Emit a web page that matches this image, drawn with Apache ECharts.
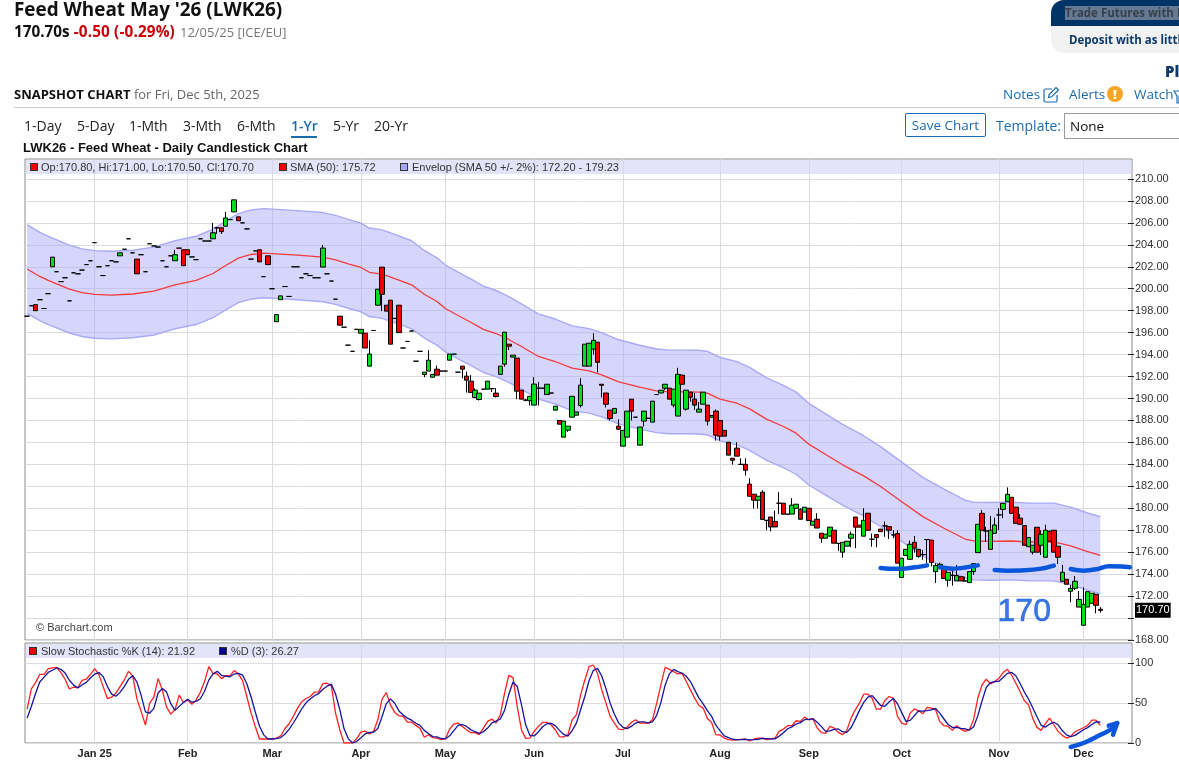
<!DOCTYPE html>
<html>
<head>
<meta charset="utf-8">
<title>Feed Wheat May '26 (LWK26)</title>
<style>
html,body{margin:0;padding:0;width:1179px;height:764px;overflow:hidden;background:#fff;font-family:"Open Sans","Noto Sans",sans-serif;color:#111}
#chart{position:absolute;left:0;top:0;width:1179px;height:764px}
.t{position:absolute;white-space:nowrap;line-height:1}
.strip{position:absolute;background:rgba(208,210,247,.6)}
.lg{position:absolute;white-space:nowrap;font:11px/1 "Liberation Sans",Arial,sans-serif;color:#333}
.sq{position:absolute;width:6px;height:6px;border:1px solid #333}
.tab{position:absolute;top:119px;font-size:14px;line-height:1;color:#222;white-space:nowrap}
</style>
</head>
<body>
<div id="chart"></div>

<div class="t" style="left:14px;top:0;font-size:18.9px;font-weight:700;color:#111">Feed Wheat May '26 (LWK26)</div>
<div class="t" style="left:14px;top:24px;font-size:15.3px;font-weight:700"><span>170.70s</span> <span style="color:#c8000a;letter-spacing:.15px">-0.50 (-0.29%)</span> <span style="font-weight:400;font-size:13px;color:#777;margin-left:1px">12/05/25 [ICE/EU]</span></div>

<div style="position:absolute;left:1051px;top:0;width:140px;height:53px;border-radius:13px;background:#f2f2f2;overflow:hidden">
  <div style="height:26px;background:#003366"></div>
</div>
<div class="t" style="left:1065px;top:6px;font-size:11.5px;font-weight:700;color:#37404c;background:#657a92;padding:1px 0">Trade Futures with Pl</div>
<div class="t" style="left:1069px;top:34px;font-size:11.5px;font-weight:700;color:#0b3a6b">Deposit with as little</div>
<div class="t" style="left:1165px;top:64px;font-size:15px;font-weight:800;color:#0b3a6b">Pl</div>

<div class="t" style="left:14px;top:88px;font-size:13px;color:#666"><b style="color:#111">SNAPSHOT CHART</b> for Fri, Dec 5th, 2025</div>
<div style="position:absolute;left:14px;top:107px;width:1165px;height:1px;background:#ccc"></div>

<div class="t" style="left:1003px;top:88px;font-size:13.5px;color:#1a6bb0">Notes</div>
<svg style="position:absolute;left:1043px;top:86px" width="17" height="17" viewBox="0 0 17 17" fill="none" stroke="#1a6bb0" stroke-width="1.2"><path d="M9 3H2.5A1.5 1.5 0 0 0 1 4.5v10A1.5 1.5 0 0 0 2.5 16h10a1.5 1.5 0 0 0 1.5-1.5V9"/><path d="M5.5 11.5l.7-3L13 1.5 15.5 4 8.6 10.8z"/></svg>
<div class="t" style="left:1069px;top:88px;font-size:13.5px;color:#1a6bb0">Alerts</div>
<div class="t" style="left:1107px;top:86px;width:16px;height:16px;border-radius:8px;background:#f5a623;color:#fff;font-size:13px;font-weight:800;line-height:16px;text-align:center">!</div>
<div class="t" style="left:1134px;top:88px;font-size:13.5px;color:#1a6bb0">Watch</div>
<svg style="position:absolute;left:1173px;top:90px" width="10" height="14" viewBox="0 0 10 14" fill="none" stroke="#1a6bb0" stroke-width="1.2"><path d="M1 1h8L6 6v7H4V6z"/></svg>

<div class="tab" style="left:24px">1-Day</div>
<div class="tab" style="left:77px">5-Day</div>
<div class="tab" style="left:129px">1-Mth</div>
<div class="tab" style="left:183px">3-Mth</div>
<div class="tab" style="left:237px">6-Mth</div>
<div class="tab" style="left:291px;color:#1a6bb0;font-weight:600">1-Yr</div>
<div style="position:absolute;left:291px;top:136px;width:26px;height:2px;background:#1a6bb0"></div>
<div class="tab" style="left:333px">5-Yr</div>
<div class="tab" style="left:374px">20-Yr</div>

<div class="t" style="left:905px;top:113px;width:79px;height:22px;border:1px solid #1a6bb0;border-radius:2px;font-size:13.5px;line-height:23px;text-align:center;color:#1a6bb0">Save Chart</div>
<div class="t" style="left:996px;top:119px;font-size:14px;color:#1a6bb0">Template:</div>
<div class="t" style="left:1064px;top:113px;width:130px;height:24px;border:1px solid #999;font-size:13.5px;line-height:25px;text-indent:5px;color:#111">None</div>

<div class="t" style="left:23px;top:141px;font:700 13px/1 'Liberation Sans',Arial,sans-serif;color:#111">LWK26 - Feed Wheat - Daily Candlestick Chart</div>

<div class="strip" style="left:26px;top:160px;width:1106px;height:14px"></div>
<div class="sq" style="left:30px;top:163px;background:#f00000"></div><div class="lg" style="left:41px;top:162px">Op:170.80, Hi:171.00, Lo:170.50, Cl:170.70</div>
<div class="sq" style="left:279px;top:163px;background:#f00000"></div><div class="lg" style="left:290px;top:162px">SMA (50): 175.72</div>
<div class="sq" style="left:400px;top:163px;background:#a6a6f2"></div><div class="lg" style="left:412px;top:162px">Envelop (SMA 50 +/- 2%): 172.20 - 179.23</div>

<div class="strip" style="left:26px;top:644px;width:1106px;height:14px"></div>
<div class="sq" style="left:29px;top:647px;background:#f00000"></div><div class="lg" style="left:41px;top:646px">Slow Stochastic %K (14): 21.92</div>
<div class="sq" style="left:219px;top:647px;background:#00008b"></div><div class="lg" style="left:231px;top:646px">%D (3): 26.27</div>

<div class="lg" style="left:36px;top:622px;color:#444">© Barchart.com</div>

<script src="https://cdn.jsdelivr.net/npm/echarts@6/dist/echarts.min.js"></script>
<script>
// Trading sessions closed on these weekdays.
const closedDays = ['2024-12-25', '2024-12-26', '2025-01-01', '2025-04-18', '2025-04-21', '2025-05-26'];
// First session of each month and the text shown under it.
const monthTicks = [
  ['2025-01-02', 'Jan 25'], ['2025-02-03', 'Feb'], ['2025-03-03', 'Mar'], ['2025-04-01', 'Apr'],
  ['2025-05-01', 'May'], ['2025-06-02', 'Jun'], ['2025-07-01', 'Jul'], ['2025-08-01', 'Aug'],
  ['2025-09-01', 'Sep'], ['2025-10-01', 'Oct'], ['2025-11-03', 'Nov'], ['2025-12-01', 'Dec']
];
// Tick positions on the two value axes.
const priceTicks = [168,170,172,174,176,178,180,182,184,186,188,190,192,194,196,198,200,202,204,206,208,210];
const stochTicks = [0,50,100];

// Daily bars: open, close, low, high.
const candles = [
[197.5,197.5,197.5,197.5],[198.45,198.45,198.45,198.45],[198.55,198,198,198.55],[199,199,199,199],[198.2,198.2,198.2,198.2],
[199.55,199.55,199.55,199.55],[202,202.88,202,202.88],[201.55,201.55,201.55,201.55],[200.65,200.65,200.65,200.65],[201,201,201,201],
[198.9,198.9,198.9,198.9],[201.45,201.45,201.45,201.45],[201.36,201.36,201.36,201.36],[201.7,201.7,201.7,201.7],[202.2,202.2,202.2,202.2],
[202.55,202.55,202.55,202.55],[204.2,204.2,204.2,204.2],[202,202,202,202],[201.2,201.2,201.2,201.2],[202.1,202.1,202.1,202.1],
[202.55,202.55,202.55,202.55],[202.45,202.45,202.45,202.45],[203,203.27,203,203.27],[203.6,203.6,203.6,203.6],[204.55,204.55,204.55,204.55],
[203.27,203.27,203.27,203.27],[202.7,201.36,201.36,202.7],[203.1,203.1,203.1,203.1],[201.55,201.55,201.55,201.55],[204.1,204.1,204.1,204.1],
[203.9,203.9,203.9,203.9],[203.8,203.8,203.8,203.8],[202.55,202.55,202.55,202.55],[202,202,202,202],[203,203,203,203],
[202.55,203.1,202.55,203.55],[203.7,203.7,203.7,203.7],[203.55,202.1,202.1,203.55],[203.55,203.1,203.1,203.55],[202.9,202.9,202.9,202.9],
[202.65,202.65,202.65,202.65],[204.55,204.55,204.55,204.55],[204.35,204.35,204.35,204.35],[204.35,204.35,204.35,204.35],[204.55,205.1,204.55,206],
[205.55,205.55,205,205.55],[205.55,205.2,205,205.55],[205.7,206.45,205.7,207],[206.3,206.3,206.3,206.3],[207,208.1,207,208.1],
[206.55,206.2,206.2,206.55],[206,206,206,206],[205.45,205.45,205.45,205.45],[202.7,202.7,202.7,202.7],[203.45,203.45,203.45,203.45],
[203.55,202.45,202.45,203.55],[201.1,201.1,201.1,201.1],[203,202.2,202.2,203],[200,200,200,200],[197,197.65,197,197.65],
[199,199.35,199,199.35],[200.2,200.2,200.2,200.2],[199.3,199.3,199.3,199.3],[202,202,202,202],[202,202,202,202],
[201,201,201,201],[201.36,201.36,201.36,201.36],[201.2,201.2,201.2,201.2],[201,201,201,201],[201,201,201,201],
[201.97,203.7,201.97,204],[201.36,201.36,201.36,201.36],[200.7,200.7,200.7,200.7],[199.05,199.05,199.05,199.05],[197.5,196.68,196.68,197.5],
[196.5,196.5,196.5,196.5],[194.86,194.86,194.86,194.86],[194.3,194.3,194.3,194.3],[196.3,196.3,196.3,196.3],[195.95,196.3,195.95,196.3],
[195.95,194.6,194.6,195.95],[192.95,194.05,192.95,195.3],[196.2,196.2,196.2,196.2],[198.5,199.96,198.5,199.96],[201.97,199.5,197.96,201.97],
[198.5,197.96,197.96,198.5],[198.96,194.95,194.95,198.96],[197.3,197.3,197.3,197.3],[198.5,196,196,198.5],[194.6,194.6,194.6,194.6],
[195.2,195.2,195.2,195.2],[196.15,196.15,196.15,196.15],[193.4,193.4,193.4,193.4],[194.3,194.3,194.3,194.3],[192.19,192.4,191.94,192.4],
[192.5,193.49,192.5,194.4],[191.94,192.2,191.94,192.2],[192.67,192.13,192.13,193],[192.5,192.5,192.5,192.5],[192.5,192.5,192.5,192.5],
[193.49,194.04,193.49,194.04],[194.04,194.04,194.04,194.04],[192.4,192.4,192.4,192.4],[192.95,192.67,191.85,192.95],[192.04,191.67,190.55,192.45],
[191.58,190.55,190.55,192.13],[190.09,190.76,190.09,190.94],[189.91,190.49,189.82,190.49],[190.85,190.85,190.85,190.85],[190.85,191.58,190.85,191.58],
[190.9,190.9,190.6,190.9],[190.49,190.18,190.1,190.94],[192.2,192.95,192.2,192.95],[193.13,196.04,192.9,196.04],[194.95,194.77,194.43,194.95],
[193.77,193.95,193.77,193.95],[193.68,190.67,189.94,193.68],[190.76,189.94,189.94,190.76],[189.85,189.85,189.75,189.95],[189.8,190.2,189.36,190.2],
[189.4,191.31,189.4,191.95],[190.94,190.94,189.36,191.5],[190.94,190.94,190.94,190.94],[190.36,191.3,190.36,191.3],[190.5,190.5,190.5,190.5],
[188.94,189.3,188.94,189.3],[188,187.66,187.66,188],[186.48,187.94,186.48,187.94],[187.12,187.48,186.96,187.48],[188.3,190.2,188.3,190.2],
[188.48,188.76,188.48,188.76],[189.36,191.22,189.18,191.85],[192.95,194.95,192.95,194.95],[192.95,195.04,192.95,195.04],[194.5,195.3,194,195.95],
[195.13,193.3,192.37,195.13],[191.3,191.2,190.1,191.3],[190.5,189.48,189.18,190.5],[188.94,188.18,188,188.94],[188.66,189.1,188.66,189.1],
[187.48,187.2,187.2,188.1],[185.66,187.1,185.66,187.1],[186.48,188.85,186.48,188.85],[189.94,188.85,188,189.94],[188.3,188.3,188.3,188.3],
[185.75,187.4,185.75,187.4],[187.94,188.85,187.45,188.85],[188.2,188.2,188.2,188.2],[187.85,189.76,187.85,189.76],[190.36,190.36,190.36,190.36],
[190.5,190.76,190.5,190.76],[190.94,191.3,190.76,191.3],[190.94,189.94,189.94,190.94],[189.4,190.85,189.2,190.85],[188.4,192.2,188.4,192.8],
[192.13,191.3,191.3,192.13],[189.03,190.76,188.9,190.76],[190.58,190.12,189.7,190.58],[189.94,189.4,188.97,190.5],[188.76,189.03,188.76,189.7],
[189.48,190.58,189.48,190.58],[189.4,187.94,187.54,189.4],[188.3,188.45,188.3,188.45],[188.85,186.66,186.17,189],[188,186.57,186.17,188],
[187.1,186.57,186.57,187.1],[186.02,184.84,184.84,186.02],[184.56,184.38,183.98,184.56],[185.48,184.75,184.75,186.02],[184,184,184,184.56],
[184,183.47,182.98,184.56],[182.2,181.1,181.1,182.74],[181.28,180.74,179.98,181.28],[180.74,181.1,179.98,181.1],[181.47,178.98,178.98,181.65],
[178.9,178.9,178,178.9],[179.2,178.3,177.9,179.2],[178.8,178.3,178.3,179.8],[180.46,180.46,179.47,181.47],[180.46,179.46,179.46,180.46],
[179.46,179.46,179.46,179.46],[179.47,180.28,179.47,180.92],[180,180.37,180,180.37],[179.92,179,179,180],[179.65,180.1,179.65,180.1],
[180,178.88,178.88,180],[178.46,178.82,178.46,178.82],[179,178.2,178.2,179.55],[177.73,177.27,176.85,177.73],[177.27,177.64,177.27,177.64],
[177.46,178.28,177.46,178.28],[178,176.82,176.82,178],[176.8,176.8,176.1,176.8],[176,176.9,175.5,176.9],[176.55,177,176.55,177],
[177.27,177.64,176.46,177.88],[179.2,178.28,176.36,179.2],[178.46,178.28,178.28,178.46],[177.46,178.9,177.46,180],[179.55,178,178,179.55],
[177.18,177.18,176.5,177.7],[177.6,177.33,176.45,177.6],[178.1,177.87,177.87,178.1],[178.4,178.4,177.4,178.8],[178.33,178,177.2,178.33],
[177.57,177.57,177.27,178],[177.7,175,175,178],[173.7,175.45,173.7,175.45],[175.7,176.26,175.7,176.26],[175.35,176.72,175.35,177.05],
[176.9,176.36,175.96,177.48],[176.26,175.6,175.5,176.26],[175.78,175.78,175.3,176.2],[177.15,177.15,175,177.15],[177.1,175.08,174.7,177.1],
[174.23,174.78,173.2,175],[174.6,174.9,174.6,175.05],[174.6,173.6,173.6,174.6],[173.44,174.17,172.86,174.17],[173.9,173.9,172.95,174.35],
[173.38,173.87,173.38,174.84],[173.77,173.38,173.38,173.77],[173.38,173.38,173.38,173.77],[173.23,174.23,173.23,174.23],[174.23,174.96,173.93,174.96],
[175.96,178.54,175.96,178.54],[179.54,178,178,179.85],[177.93,177.93,176.95,178.3],[176.26,178,176.26,179.3],[177.72,178.48,177.72,179.15],
[179.4,179.4,178,180],[179.9,180.45,179.1,180.45],[180.6,181.27,180.6,181.9],[181,179.54,179.54,181],[180.1,178.63,178.63,180.1],
[179.1,178.54,178.54,179.48],[178.42,176.63,176.63,178.42],[176.5,177.33,176.5,177.33],[176,176.63,175.8,176.63],[178.27,176,176,178.27],
[176.63,177.63,175.75,178],[175.54,178,175.54,178.5],[177.9,177,177,178],[178,176,176,178],[176.54,175.54,174.93,176.54],
[173.35,174.17,173.35,174.84],[173.53,173.08,173.08,173.53],[172.44,172.71,171.44,173],[172.71,173.35,172.55,173.83],[171,171.7,171,172.47],
[169.34,171.25,169.34,172.8],[171,172.4,171,172.4],[171.35,172.26,171.35,172.26],[172.16,171.16,170.43,172.16],[170.8,170.7,170.5,171]
];

// 50-day average and its +/- 2% envelope, as [session, value].
const smaLine = [[0,201.8],[3,201.12],[5,200.76],[7,200.45],[10,199.97],[13,199.64],[16,199.48],[20,199.42],[25,199.52],[30,199.79],[35,200.36],[40,200.76],[44,201.39],[47,202.12],[50,202.79],[53,203.12],[56,203.24],[60,203.15],[64,203.06],[70,202.88],[73,202.63],[76,202.27],[79,201.94],[81,201.5],[84,201.33],[87,200.93],[91,200.36],[94,199.5],[97,198.84],[99,198.2],[102,197.56],[105,196.95],[108,196.3],[111,195.92],[114,195.38],[117,194.74],[121,193.83],[125,193.37],[129,192.76],[133,192.52],[136,192.16],[140,191.52],[145,191.03],[149,190.7],[152,190.6],[156,190.6],[159,190.58],[161,190.49],[164,189.94],[168,189.57],[171,189.06],[175,188.12],[179,187.45],[182,186.84],[185,185.84],[189,184.9],[193,183.96],[198,182.95],[202,181.98],[207,180.6],[212,179.24],[217,178.18],[222,177.2],[224,177.02],[228,176.99],[233,177.02],[237,176.93],[243,176.93],[247,176.57],[251,176.05],[254,175.72]];
const envelopeUpper = [[0,205.84],[3,205.14],[5,204.78],[7,204.46],[10,203.97],[13,203.63],[16,203.47],[20,203.41],[25,203.51],[30,203.79],[35,204.37],[40,204.78],[44,205.42],[47,206.16],[50,206.85],[53,207.18],[56,207.3],[60,207.21],[64,207.12],[70,206.94],[73,206.68],[76,206.32],[79,205.98],[81,205.53],[84,205.36],[87,204.95],[91,204.37],[94,203.49],[97,202.82],[99,202.16],[102,201.51],[105,200.89],[108,200.23],[111,199.84],[114,199.29],[117,198.63],[121,197.71],[125,197.24],[129,196.62],[133,196.37],[136,196],[140,195.35],[145,194.85],[149,194.51],[152,194.41],[156,194.41],[159,194.39],[161,194.3],[164,193.74],[168,193.36],[171,192.84],[175,191.88],[179,191.2],[182,190.58],[185,189.56],[189,188.6],[193,187.64],[198,186.61],[202,185.62],[207,184.21],[212,182.82],[217,181.74],[222,180.74],[224,180.56],[228,180.53],[233,180.56],[237,180.47],[243,180.47],[247,180.1],[251,179.57],[254,179.23]];
const envelopeLower = [[0,197.76],[3,197.1],[5,196.74],[7,196.44],[10,195.97],[13,195.65],[16,195.49],[20,195.43],[25,195.53],[30,195.79],[35,196.35],[40,196.74],[44,197.36],[47,198.08],[50,198.73],[53,199.06],[56,199.18],[60,199.09],[64,199],[70,198.82],[73,198.58],[76,198.22],[79,197.9],[81,197.47],[84,197.3],[87,196.91],[91,196.35],[94,195.51],[97,194.86],[99,194.24],[102,193.61],[105,193.01],[108,192.37],[111,192],[114,191.47],[117,190.85],[121,189.95],[125,189.5],[129,188.9],[133,188.67],[136,188.32],[140,187.69],[145,187.21],[149,186.89],[152,186.79],[156,186.79],[159,186.77],[161,186.68],[164,186.14],[168,185.78],[171,185.28],[175,184.36],[179,183.7],[182,183.1],[185,182.12],[189,181.2],[193,180.28],[198,179.29],[202,178.34],[207,176.99],[212,175.66],[217,174.62],[222,173.66],[224,173.48],[228,173.45],[233,173.48],[237,173.39],[243,173.39],[247,173.04],[251,172.53],[254,172.2]];

// Slow stochastic, one value per session.
const stochK = [
42.3,67.6,75.5,85.9,85.9,92.9,93.8,94.6,88,79.7,67.6,69.7,69.3,78.4,79.7,85.9,92.9,85.5,70.5,55.6,
57.3,62.2,70.5,78.8,89.6,83.8,54.8,39.4,22.4,49.8,57.3,80.5,66.4,44.8,36.1,41.5,59.8,50.6,53.9,48.5,
53.9,63.5,76.8,95.4,87.1,86.3,80.5,84.2,83.8,90.5,86.3,78,58.1,37.3,20.7,5,5,5,5,6.2,
9.1,17.8,24.1,33.2,43.6,51.5,55.6,58.1,63.5,63.9,74.3,74.7,71.8,37.3,16.6,0,0,0,5.4,13.7,
14.9,11.2,14.5,29,54.8,63.1,47.7,38.2,34,33.2,26.1,26.1,22,18.3,7.1,10.4,6.6,6.2,4.1,5.4,
17.4,23.7,24.9,20.7,16.6,12.9,12.9,10.4,18.7,27,29.9,24.9,35.3,62.2,84.6,81.7,45.6,16.6,5.8,6.2,
14.5,20.7,25.7,25.7,22.8,16.6,7.9,7.5,10.4,29,35.3,60.2,78.8,95.4,97.5,87.1,66.4,49.8,33.2,24.9,
17.4,16.6,19.9,25.7,29,24.9,24.9,24.9,29,49.8,72.6,94.6,92.1,89.2,86.3,87.1,76.8,66.4,56,46.9,
43.6,30.7,25.7,10.4,10,6.2,4.1,3.7,4.1,4.6,5,2.5,5,6.2,6.2,4.1,5,6.2,14.5,17.4,
21.6,21.6,27.8,27,32.4,29,29.9,18.7,12.9,12,20.7,18.7,13.3,10.4,15.8,31.1,41.5,49.8,61,61,
56,42.3,42.3,53.1,58.1,56,33.2,24.9,22.8,37.3,42.7,40.2,36.5,44.4,43.6,41.5,27,21.6,20.7,15.8,
21.6,17.4,14.5,16.6,29,56,72.6,79.7,73.9,76.8,80.9,88,92.1,85.1,74.7,64.3,53.1,47.7,31.1,19.5,
15.8,24.1,31.1,22.8,14.5,9.5,6.2,8.3,14.1,16.6,19.1,22,28.6,28.6,21.92
];
const stochD = [
31.1,45.6,61.8,76.3,82.4,88.2,90.9,93.8,92.1,87.4,78.4,72.3,68.9,72.5,75.8,81.3,86.2,88.1,83,70.5,
61.1,58.4,63.3,70.5,79.6,84.1,76.1,59.3,38.9,37.2,43.2,62.5,68.1,63.9,49.1,40.8,45.8,50.6,54.8,51,
52.1,55.3,64.7,78.6,86.4,89.6,84.6,83.7,82.8,86.2,86.9,84.9,74.1,57.8,38.7,21,10.2,5,5,5.4,
6.8,11,17,25,33.6,42.8,50.2,55.1,59,61.8,67.2,71,73.6,61.3,41.9,18,5.5,0,1.8,6.4,
11.3,13.3,13.5,18.2,32.8,49,55.2,49.7,40,35.1,31.1,28.5,24.7,22.1,15.8,11.9,8,7.7,5.6,5.2,
9,15.5,22,23.1,20.7,16.7,14.1,12.1,14,18.7,25.2,27.3,30,40.8,60.7,76.2,70.6,48,22.7,9.5,
8.8,13.8,20.3,24,24.7,21.7,15.8,10.7,8.6,15.6,24.9,41.5,58.1,78.1,90.6,93.3,83.7,67.8,49.8,36,
25.2,19.6,18,20.7,24.9,26.5,26.3,24.9,26.3,34.6,50.5,72.3,86.4,92,89.2,87.5,83.4,76.8,66.4,56.4,
48.8,40.4,33.3,22.3,15.4,8.9,6.8,4.7,4,4.2,4.6,4,4.2,4.6,5.8,5.5,5.1,5.1,8.6,12.7,
17.8,20.2,23.7,25.5,29.1,29.5,30.4,25.9,20.5,14.5,15.2,17.1,17.6,14.1,13.2,19.1,29.5,40.8,50.8,57.3,
59.3,53.1,46.9,45.9,51.2,55.7,49.1,38,27,28.3,34.3,40.1,39.8,40.4,41.5,43.2,37.4,30,23.1,19.4,
19.4,18.3,17.8,16.2,20,33.9,52.5,69.4,75.4,76.8,77.2,81.9,87,88.4,84,74.7,64,55,44,32.8,
22.1,19.8,23.7,26,22.8,15.6,10.1,8,9.5,13,16.6,19.2,23.2,26.4,26.27
];

// Hand-drawn marks on the chart, as [session, price] and [session, stochastic].
const supportStrokes = [
  [[202,174.56],[204,174.5],[207,174.5],[210,174.62],[213,174.8]],
  [[216,174.62],[219,174.5],[222,174.6],[225,174.8]],
  [[229,174.38],[232,174.32],[236,174.35],[240,174.5],[243,174.78]],
  [[247,174.47],[250,174.32],[253,174.44],[256,174.72],[259,174.69],[261,174.62]]
];
const noteAt = [236, 170.5];
const noteText = '170';
const arrowStroke = [[247,-5],[250,0],[253,7.5],[257,18.7],[258,24.9]];
const arrowHead = [[256,21.6],[258,24.9],[257,10.4]];

const lastClose = 170.7;

// Session dates on weekdays, with the axis running a few sessions past the last bar.
const categories = [];
for (let d = Date.UTC(2024, 11, 6); d <= Date.UTC(2025, 11, 16); d += 86400000) {
  const day = new Date(d), key = day.toISOString().slice(0, 10), wd = day.getUTCDay();
  if (wd !== 0 && wd !== 6 && !closedDays.includes(key)) categories.push(key);
}
const tickText = Object.fromEntries(monthTicks);
const isMonthStart = (i, v) => v in tickText;

const gridColor = '#dcdcdc';
const axisFont = { fontFamily: '"Liberation Sans", Arial, sans-serif', fontSize: 11, color: '#333' };
const frame = { show: true, borderColor: '#8a8a8a', borderWidth: 1, backgroundColor: 'transparent' };
const splitV = { show: true, alignWithLabel: true, interval: isMonthStart, lineStyle: { color: gridColor, width: 1 } };
const sketchLine = (data, xi, yi) => ({
  type: 'line', data, xAxisIndex: xi, yAxisIndex: yi, symbol: 'none', smooth: 0.35, clip: false, z: 8, silent: true,
  lineStyle: { color: '#0b57dc', width: 4.5, cap: 'round', join: 'round' }
});
const tickStyle = { color: '#222', width: 1 };
// A second axis on each panel carries the part of the tick that runs inside the frame.
const innerTicks = (grid, min, max, interval, ticks) => ({
  type: 'value', gridIndex: grid, position: 'right', min, max, interval,
  axisLine: { show: false }, axisLabel: { show: false }, splitLine: { show: false },
  axisTick: { show: true, inside: true, length: 4, customValues: ticks, lineStyle: tickStyle }
});

const chart = echarts.init(document.getElementById('chart'), null, { renderer: 'canvas' });
chart.setOption({
  animation: false,
  grid: [
    Object.assign({ left: 25, top: 159, width: 1107, height: 481 }, frame),
    Object.assign({ left: 25, top: 643, width: 1107, height: 100 }, frame)
  ],
  xAxis: [
    { type: 'category', gridIndex: 0, data: categories, boundaryGap: true, axisLine: { show: false }, axisTick: { show: false }, axisLabel: { show: false }, splitLine: splitV },
    { type: 'category', gridIndex: 1, data: categories, boundaryGap: true, axisLine: { show: false }, axisTick: { show: false }, splitLine: splitV,
      axisLabel: { show: true, interval: isMonthStart, formatter: v => tickText[v] || '', fontFamily: axisFont.fontFamily, fontSize: 11, fontWeight: 700, color: '#222', margin: 5, hideOverlap: false } }
  ],
  yAxis: [
    { type: 'value', gridIndex: 0, position: 'right', min: 168, max: 211.82, interval: 2,
      axisLine: { show: false }, axisTick: { show: true, length: 2, customValues: priceTicks, lineStyle: tickStyle },
      axisLabel: Object.assign({ margin: 3, padding: [4, 0, 0, 0], showMaxLabel: false, formatter: v => (v > 210.5 || v === 170) ? '' : v.toFixed(2) }, axisFont),
      splitLine: { show: true, lineStyle: { color: gridColor, width: 1 } } },
    { type: 'value', gridIndex: 1, position: 'right', min: 0, max: 125, interval: 50,
      axisLine: { show: false }, axisTick: { show: true, length: 2, customValues: stochTicks, lineStyle: tickStyle },
      axisLabel: Object.assign({ margin: 3, padding: [4, 0, 0, 0], showMaxLabel: false, formatter: v => v > 100 ? '' : String(v) }, axisFont),
      splitLine: { show: true, lineStyle: { color: gridColor, width: 1 } } },
    innerTicks(0, 168, 211.82, 2, priceTicks),
    innerTicks(1, 0, 125, 50, stochTicks)
  ],
  series: [
    { // Shaded area between the two envelope lines
      type: 'custom', xAxisIndex: 0, yAxisIndex: 0, data: [0], z: 1, silent: true, clip: true,
      renderItem: (params, api) => ({
        type: 'polygon',
        shape: { points: envelopeUpper.concat(envelopeLower.slice().reverse()).map(p => api.coord(p)) },
        style: { fill: 'rgba(170,170,250,0.48)', stroke: 'none' }
      })
    },
    { type: 'line', data: envelopeUpper, symbol: 'none', z: 2, silent: true, lineStyle: { color: '#a9a9f6', width: 1.4 } },
    { type: 'line', data: envelopeLower, symbol: 'none', z: 2, silent: true, lineStyle: { color: '#a9a9f6', width: 1.4 } },
    { type: 'line', data: smaLine, symbol: 'none', z: 3, silent: true, lineStyle: { color: '#f43a3a', width: 1.3 } },
    { type: 'candlestick', data: candles, barWidth: 5, z: 4, silent: true,
      itemStyle: { color: '#00e01a', color0: '#f00000', borderColor: '#000', borderColor0: '#000', borderColorDoji: '#000', borderWidth: 1 },
      markLine: { silent: true, symbol: 'none', animation: false,
        data: [{ yAxis: lastClose }], lineStyle: { width: 0, color: 'transparent' },
        label: { show: true, position: 'end', distance: 3, formatter: lastClose.toFixed(2), color: '#fff', backgroundColor: '#000', padding: [3, 1, 1, 1], fontFamily: axisFont.fontFamily, fontSize: 11 } } },
    ...supportStrokes.map(s => sketchLine(s, 0, 0)),
    { type: 'scatter', data: [noteAt], symbolSize: 0, z: 8, silent: true, clip: false,
      label: { show: true, position: 'inside', formatter: noteText, color: '#0b57dc', textBorderColor: '#0b57dc', textBorderWidth: 0.6, fontFamily: axisFont.fontFamily, fontSize: 32 } },
    { type: 'line', data: stochK, xAxisIndex: 1, yAxisIndex: 1, symbol: 'none', z: 3, silent: true, lineStyle: { color: '#ff2020', width: 1.3 } },
    { type: 'line', data: stochD, xAxisIndex: 1, yAxisIndex: 1, symbol: 'none', z: 4, silent: true, lineStyle: { color: '#1414a0', width: 1.3 } },
    sketchLine(arrowStroke, 1, 1),
    Object.assign(sketchLine(arrowHead, 1, 1), { smooth: false })
  ]
});
</script>
</body>
</html>
